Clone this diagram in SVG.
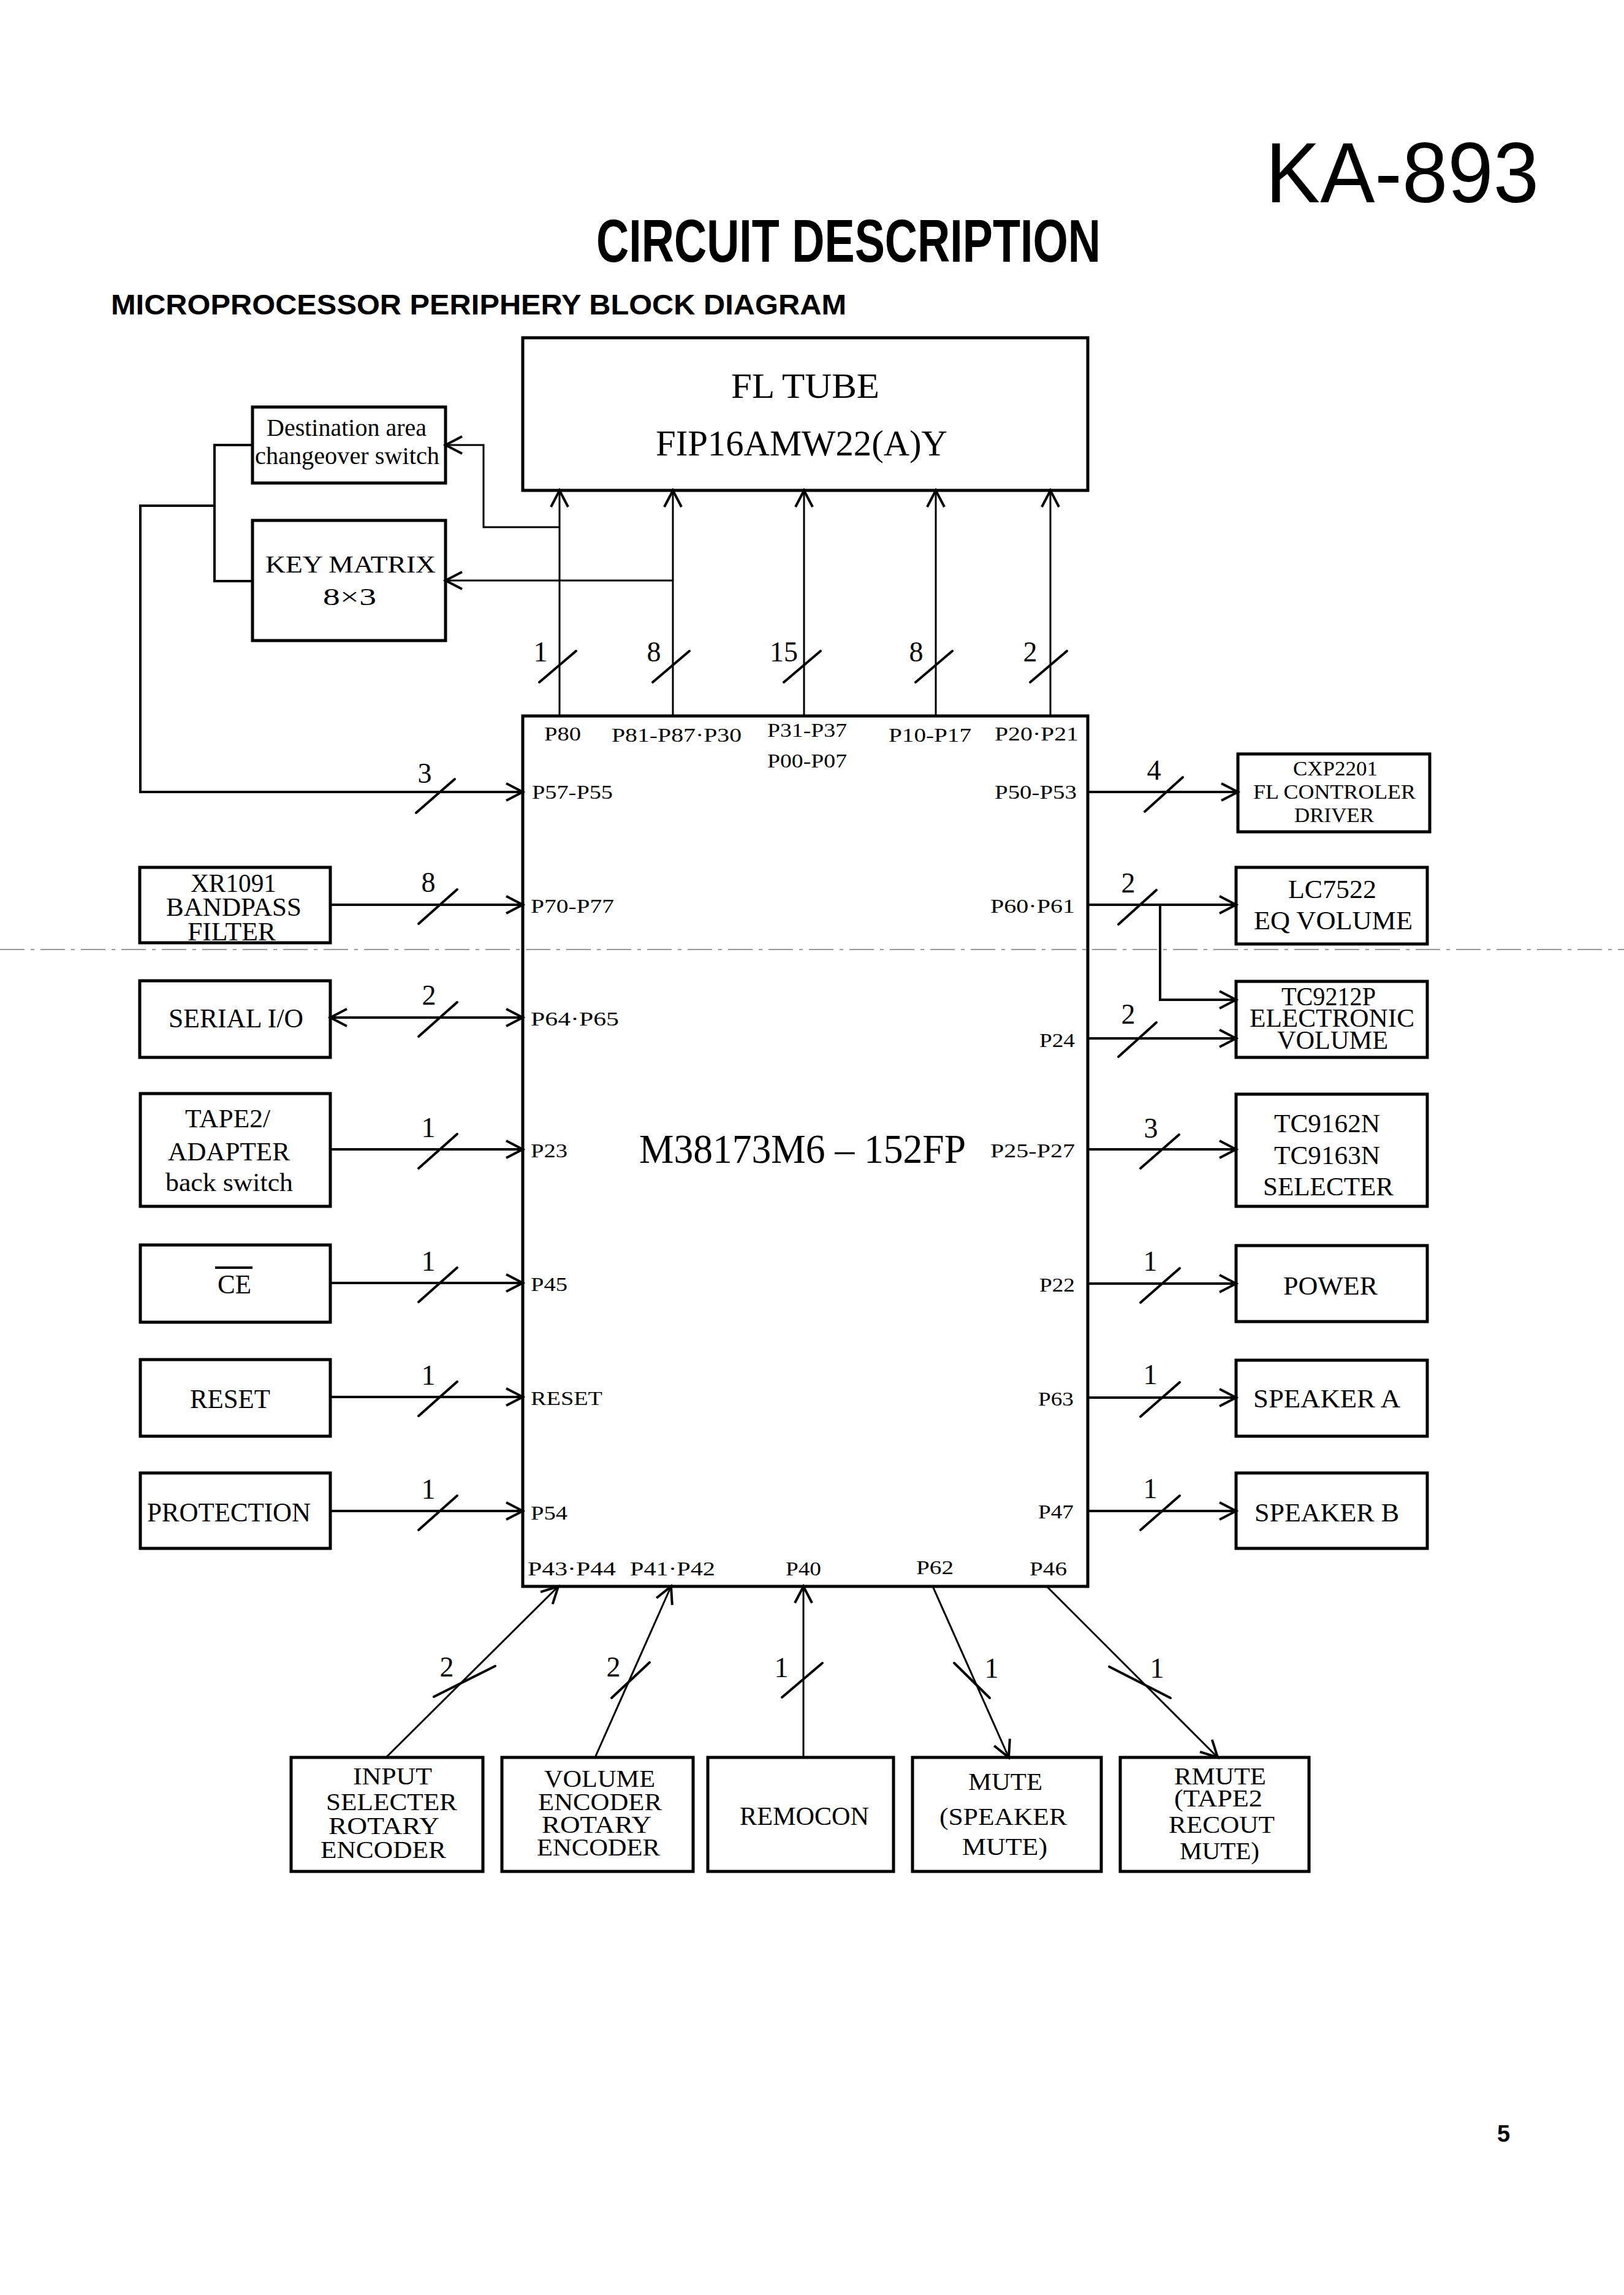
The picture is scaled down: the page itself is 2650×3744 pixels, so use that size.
<svg xmlns="http://www.w3.org/2000/svg" width="2650" height="3744" viewBox="0 0 2650 3744">
<style>
.bg{fill:#fff}
.box{fill:none;stroke:#000;stroke-width:5}
.ln{fill:none;stroke:#000;stroke-width:4}
.th{fill:none;stroke:#000;stroke-width:3}
.sl{fill:none;stroke:#000;stroke-width:4;stroke-linecap:round}
.t{font-family:"Liberation Serif","Times New Roman",serif;fill:#000}
.p{font-family:"Liberation Serif","Times New Roman",serif;font-size:32px;fill:#000}
.n{font-family:"Liberation Serif","Times New Roman",serif;font-size:46px;fill:#000;text-anchor:middle}
.s{font-family:"Liberation Sans",Arial,sans-serif;fill:#000}
</style>
<defs>
<marker id="arr" markerUnits="userSpaceOnUse" viewBox="-32 -20 40 40" markerWidth="40" markerHeight="40" refX="0" refY="0" orient="auto-start-reverse" overflow="visible">
<path d="M-27,-14 L0,0 L-27,14" fill="none" stroke="#000" stroke-width="4"/>
</marker>
</defs>
<rect class="bg" x="0" y="0" width="2650" height="3744"/>

<g id="header">
<text class="s" x="2065" y="330" font-size="140" textLength="446" lengthAdjust="spacingAndGlyphs">KA-893</text>
<text class="s" x="973" y="427" font-size="98" font-weight="bold" textLength="823" lengthAdjust="spacingAndGlyphs">CIRCUIT DESCRIPTION</text>
<text class="s" x="181" y="513" font-size="47" font-weight="bold" textLength="1200" lengthAdjust="spacingAndGlyphs">MICROPROCESSOR PERIPHERY BLOCK DIAGRAM</text>
<text class="s" x="2443" y="3494" font-size="38" font-weight="bold">5</text>
</g>

<line x1="0" y1="1549" x2="2650" y2="1549" stroke="#999" stroke-width="2" stroke-dasharray="40 10 6 10"/>

<g id="fl-tube">
<rect class="box" x="853" y="551" width="922" height="249"/>
<text class="t" x="1193" y="649" font-size="57" textLength="242" lengthAdjust="spacingAndGlyphs">FL TUBE</text>
<text class="t" x="1070" y="743" font-size="60" textLength="476" lengthAdjust="spacingAndGlyphs">FIP16AMW22(A)Y</text>
</g>

<g id="destination">
<rect class="box" x="412" y="664" width="315" height="124"/>
<text class="t" x="435" y="711" font-size="39" textLength="261" lengthAdjust="spacingAndGlyphs">Destination area</text>
<text class="t" x="416" y="757" font-size="39" textLength="301" lengthAdjust="spacingAndGlyphs">changeover switch</text>
</g>

<g id="key-matrix">
<rect class="box" x="412" y="849" width="315" height="196"/>
<text class="t" x="433" y="934" font-size="41" textLength="278" lengthAdjust="spacingAndGlyphs">KEY MATRIX</text>
<text class="t" x="527" y="987" font-size="41" textLength="87" lengthAdjust="spacingAndGlyphs">8×3</text>
</g>

<g id="mcu">
<rect class="box" x="853" y="1168" width="922" height="1420"/>
<text class="t" x="1043" y="1897" font-size="68" textLength="533" lengthAdjust="spacingAndGlyphs">M38173M6 – 152FP</text>
<text class="p" x="888" y="1208" textLength="60" lengthAdjust="spacingAndGlyphs">P80</text>
<text class="p" x="998" y="1210" textLength="212" lengthAdjust="spacingAndGlyphs">P81-P87·P30</text>
<text class="p" x="1252" y="1202" textLength="130" lengthAdjust="spacingAndGlyphs">P31-P37</text>
<text class="p" x="1252" y="1252" textLength="130" lengthAdjust="spacingAndGlyphs">P00-P07</text>
<text class="p" x="1450" y="1210" textLength="135" lengthAdjust="spacingAndGlyphs">P10-P17</text>
<text class="p" x="1623" y="1208" textLength="137" lengthAdjust="spacingAndGlyphs">P20·P21</text>
<text class="p" x="868" y="1303" textLength="132" lengthAdjust="spacingAndGlyphs">P57-P55</text>
<text class="p" x="866" y="1489" textLength="136" lengthAdjust="spacingAndGlyphs">P70-P77</text>
<text class="p" x="866" y="1673" textLength="144" lengthAdjust="spacingAndGlyphs">P64·P65</text>
<text class="p" x="866" y="1888" textLength="60" lengthAdjust="spacingAndGlyphs">P23</text>
<text class="p" x="866" y="2106" textLength="60" lengthAdjust="spacingAndGlyphs">P45</text>
<text class="p" x="866" y="2292" textLength="117" lengthAdjust="spacingAndGlyphs">RESET</text>
<text class="p" x="866" y="2479" textLength="60" lengthAdjust="spacingAndGlyphs">P54</text>
<text class="p" x="1623" y="1303" textLength="134" lengthAdjust="spacingAndGlyphs">P50-P53</text>
<text class="p" x="1616" y="1489" textLength="138" lengthAdjust="spacingAndGlyphs">P60·P61</text>
<text class="p" x="1696" y="1708" textLength="58" lengthAdjust="spacingAndGlyphs">P24</text>
<text class="p" x="1616" y="1888" textLength="138" lengthAdjust="spacingAndGlyphs">P25-P27</text>
<text class="p" x="1696" y="2107" textLength="58" lengthAdjust="spacingAndGlyphs">P22</text>
<text class="p" x="1694" y="2293" textLength="58" lengthAdjust="spacingAndGlyphs">P63</text>
<text class="p" x="1694" y="2477" textLength="58" lengthAdjust="spacingAndGlyphs">P47</text>
<text class="p" x="861" y="2570" textLength="144" lengthAdjust="spacingAndGlyphs">P43·P44</text>
<text class="p" x="1028" y="2570" textLength="139" lengthAdjust="spacingAndGlyphs">P41·P42</text>
<text class="p" x="1282" y="2570" textLength="58" lengthAdjust="spacingAndGlyphs">P40</text>
<text class="p" x="1495" y="2568" textLength="61" lengthAdjust="spacingAndGlyphs">P62</text>
<text class="p" x="1680" y="2570" textLength="61" lengthAdjust="spacingAndGlyphs">P46</text>
</g>

<g id="xr1091">
<rect class="box" x="228" y="1415" width="311" height="123"/>
<text class="t" x="311" y="1455" font-size="42" textLength="140" lengthAdjust="spacingAndGlyphs">XR1091</text>
<text class="t" x="271" y="1494" font-size="42" textLength="221" lengthAdjust="spacingAndGlyphs">BANDPASS</text>
<text class="t" x="306" y="1534" font-size="42" textLength="144" lengthAdjust="spacingAndGlyphs">FILTER</text>
</g>
<g id="serial-io">
<rect class="box" x="228" y="1600" width="311" height="125"/>
<text class="t" x="275" y="1676" font-size="44" textLength="220" lengthAdjust="spacingAndGlyphs">SERIAL I/O</text>
</g>
<g id="tape2-adapter">
<rect class="box" x="229" y="1784" width="310" height="184"/>
<text class="t" x="302" y="1839" font-size="42" textLength="139" lengthAdjust="spacingAndGlyphs">TAPE2/</text>
<text class="t" x="274" y="1893" font-size="42" textLength="199" lengthAdjust="spacingAndGlyphs">ADAPTER</text>
<text class="t" x="270" y="1943" font-size="42" textLength="208" lengthAdjust="spacingAndGlyphs">back switch</text>
</g>
<g id="ce">
<rect class="box" x="229" y="2031" width="310" height="126"/>
<text class="t" x="355" y="2110" font-size="44" textLength="55" lengthAdjust="spacingAndGlyphs">CE</text>
<line x1="351" y1="2068" x2="412" y2="2068" stroke="#000" stroke-width="4"/>
</g>
<g id="reset">
<rect class="box" x="229" y="2218" width="310" height="125"/>
<text class="t" x="310" y="2297" font-size="44" textLength="131" lengthAdjust="spacingAndGlyphs">RESET</text>
</g>
<g id="protection">
<rect class="box" x="229" y="2403" width="310" height="123"/>
<text class="t" x="240" y="2482" font-size="44" textLength="267" lengthAdjust="spacingAndGlyphs">PROTECTION</text>
</g>

<g id="cxp2201">
<rect class="box" x="2020" y="1230" width="313" height="127"/>
<text class="t" x="2110" y="1265" font-size="34" textLength="138" lengthAdjust="spacingAndGlyphs">CXP2201</text>
<text class="t" x="2045" y="1303" font-size="34" textLength="265" lengthAdjust="spacingAndGlyphs">FL CONTROLER</text>
<text class="t" x="2112" y="1341" font-size="34" textLength="130" lengthAdjust="spacingAndGlyphs">DRIVER</text>
</g>
<g id="lc7522">
<rect class="box" x="2017" y="1415" width="312" height="125"/>
<text class="t" x="2102" y="1465" font-size="42" textLength="144" lengthAdjust="spacingAndGlyphs">LC7522</text>
<text class="t" x="2046" y="1516" font-size="42" textLength="259" lengthAdjust="spacingAndGlyphs">EQ VOLUME</text>
</g>
<g id="tc9212p">
<rect class="box" x="2017" y="1601" width="312" height="124"/>
<text class="t" x="2091" y="1640" font-size="42" textLength="154" lengthAdjust="spacingAndGlyphs">TC9212P</text>
<text class="t" x="2039" y="1675" font-size="42" textLength="269" lengthAdjust="spacingAndGlyphs">ELECTRONIC</text>
<text class="t" x="2084" y="1711" font-size="42" textLength="181" lengthAdjust="spacingAndGlyphs">VOLUME</text>
</g>
<g id="tc9162n">
<rect class="box" x="2017" y="1785" width="312" height="183"/>
<text class="t" x="2079" y="1847" font-size="42" textLength="173" lengthAdjust="spacingAndGlyphs">TC9162N</text>
<text class="t" x="2079" y="1899" font-size="42" textLength="173" lengthAdjust="spacingAndGlyphs">TC9163N</text>
<text class="t" x="2061" y="1950" font-size="42" textLength="213" lengthAdjust="spacingAndGlyphs">SELECTER</text>
</g>
<g id="power">
<rect class="box" x="2017" y="2032" width="312" height="124"/>
<text class="t" x="2094" y="2112" font-size="42" textLength="154" lengthAdjust="spacingAndGlyphs">POWER</text>
</g>
<g id="speaker-a">
<rect class="box" x="2017" y="2219" width="312" height="124"/>
<text class="t" x="2045" y="2296" font-size="42" textLength="240" lengthAdjust="spacingAndGlyphs">SPEAKER A</text>
</g>
<g id="speaker-b">
<rect class="box" x="2017" y="2403" width="312" height="123"/>
<text class="t" x="2047" y="2482" font-size="42" textLength="236" lengthAdjust="spacingAndGlyphs">SPEAKER B</text>
</g>

<g id="input-selecter">
<rect class="box" x="475" y="2867" width="313" height="186"/>
<text class="t" x="576" y="2911" font-size="40" textLength="129" lengthAdjust="spacingAndGlyphs">INPUT</text>
<text class="t" x="532" y="2953" font-size="40" textLength="214" lengthAdjust="spacingAndGlyphs">SELECTER</text>
<text class="t" x="536" y="2992" font-size="40" textLength="181" lengthAdjust="spacingAndGlyphs">ROTARY</text>
<text class="t" x="523" y="3031" font-size="40" textLength="205" lengthAdjust="spacingAndGlyphs">ENCODER</text>
</g>
<g id="volume-encoder">
<rect class="box" x="819" y="2867" width="312" height="186"/>
<text class="t" x="888" y="2915" font-size="40" textLength="181" lengthAdjust="spacingAndGlyphs">VOLUME</text>
<text class="t" x="878" y="2953" font-size="40" textLength="202" lengthAdjust="spacingAndGlyphs">ENCODER</text>
<text class="t" x="884" y="2990" font-size="40" textLength="179" lengthAdjust="spacingAndGlyphs">ROTARY</text>
<text class="t" x="876" y="3027" font-size="40" textLength="201" lengthAdjust="spacingAndGlyphs">ENCODER</text>
</g>
<g id="remocon">
<rect class="box" x="1155" y="2867" width="303" height="186"/>
<text class="t" x="1207" y="2977" font-size="42" textLength="211" lengthAdjust="spacingAndGlyphs">REMOCON</text>
</g>
<g id="mute">
<rect class="box" x="1489" y="2867" width="308" height="186"/>
<text class="t" x="1580" y="2920" font-size="40" textLength="121" lengthAdjust="spacingAndGlyphs">MUTE</text>
<text class="t" x="1533" y="2977" font-size="40" textLength="208" lengthAdjust="spacingAndGlyphs">(SPEAKER</text>
<text class="t" x="1570" y="3026" font-size="40" textLength="139" lengthAdjust="spacingAndGlyphs">MUTE)</text>
</g>
<g id="rmute">
<rect class="box" x="1828" y="2867" width="308" height="186"/>
<text class="t" x="1916" y="2911" font-size="40" textLength="150" lengthAdjust="spacingAndGlyphs">RMUTE</text>
<text class="t" x="1916" y="2947" font-size="40" textLength="144" lengthAdjust="spacingAndGlyphs">(TAPE2</text>
<text class="t" x="1907" y="2990" font-size="40" textLength="173" lengthAdjust="spacingAndGlyphs">RECOUT</text>
<text class="t" x="1925" y="3033" font-size="40" textLength="130" lengthAdjust="spacingAndGlyphs">MUTE)</text>
</g>

<g id="connectors">
<path class="th" d="M913,1168 V800" marker-end="url(#arr)"/>
<path class="th" d="M1098,1168 V800" marker-end="url(#arr)"/>
<path class="th" d="M1312,1168 V800" marker-end="url(#arr)"/>
<path class="th" d="M1527,1168 V800" marker-end="url(#arr)"/>
<path class="th" d="M1714,1168 V800" marker-end="url(#arr)"/>
<path class="th" d="M913,860 H789 V726 H727" marker-end="url(#arr)"/>
<path class="th" d="M1098,947 H727" marker-end="url(#arr)"/>
<path class="ln" d="M412,726 H350 V948 H412"/>
<path class="ln" d="M350,825 H229 V1292 H853" marker-end="url(#arr)"/>
<line class="sl" x1="880" y1="1113" x2="940" y2="1062"/>
<line class="sl" x1="1065" y1="1113" x2="1125" y2="1062"/>
<line class="sl" x1="1279" y1="1113" x2="1339" y2="1062"/>
<line class="sl" x1="1494" y1="1113" x2="1554" y2="1062"/>
<line class="sl" x1="1681" y1="1113" x2="1741" y2="1062"/>
<text class="n" x="882" y="1079">1</text>
<text class="n" x="1067" y="1079">8</text>
<text class="n" x="1279" y="1079">15</text>
<text class="n" x="1495" y="1079">8</text>
<text class="n" x="1681" y="1079">2</text>
<path class="ln" d="M539,1476 H853" marker-end="url(#arr)"/>
<path class="ln" d="M539,1660 H853" marker-start="url(#arr)" marker-end="url(#arr)"/>
<path class="ln" d="M539,1875 H853" marker-end="url(#arr)"/>
<path class="ln" d="M539,2093 H853" marker-end="url(#arr)"/>
<path class="ln" d="M539,2279 H853" marker-end="url(#arr)"/>
<path class="ln" d="M539,2465 H853" marker-end="url(#arr)"/>
<line class="sl" x1="679" y1="1326" x2="742" y2="1271"/>
<line class="sl" x1="683" y1="1507" x2="746" y2="1451"/>
<line class="sl" x1="683" y1="1691" x2="746" y2="1635"/>
<line class="sl" x1="683" y1="1906" x2="746" y2="1850"/>
<line class="sl" x1="683" y1="2124" x2="746" y2="2068"/>
<line class="sl" x1="683" y1="2310" x2="746" y2="2254"/>
<line class="sl" x1="683" y1="2496" x2="746" y2="2440"/>
<text class="n" x="693" y="1277">3</text>
<text class="n" x="699" y="1455">8</text>
<text class="n" x="700" y="1639">2</text>
<text class="n" x="699" y="1855">1</text>
<text class="n" x="699" y="2073">1</text>
<text class="n" x="699" y="2259">1</text>
<text class="n" x="699" y="2445">1</text>
<path class="ln" d="M1775,1292 H2020" marker-end="url(#arr)"/>
<path class="ln" d="M1775,1476 H2017" marker-end="url(#arr)"/>
<path class="ln" d="M1893,1476 V1631 H2017" marker-end="url(#arr)"/>
<path class="ln" d="M1775,1694 H2017" marker-end="url(#arr)"/>
<path class="ln" d="M1775,1875 H2017" marker-end="url(#arr)"/>
<path class="ln" d="M1775,2094 H2017" marker-end="url(#arr)"/>
<path class="ln" d="M1775,2280 H2017" marker-end="url(#arr)"/>
<path class="ln" d="M1775,2465 H2017" marker-end="url(#arr)"/>
<line class="sl" x1="1868" y1="1324" x2="1930" y2="1268"/>
<line class="sl" x1="1825" y1="1508" x2="1887" y2="1452"/>
<line class="sl" x1="1825" y1="1724" x2="1887" y2="1668"/>
<line class="sl" x1="1861" y1="1906" x2="1924" y2="1851"/>
<line class="sl" x1="1861" y1="2125" x2="1925" y2="2069"/>
<line class="sl" x1="1861" y1="2311" x2="1925" y2="2255"/>
<line class="sl" x1="1861" y1="2496" x2="1925" y2="2440"/>
<text class="n" x="1883" y="1272">4</text>
<text class="n" x="1841" y="1456">2</text>
<text class="n" x="1841" y="1670">2</text>
<text class="n" x="1878" y="1856">3</text>
<text class="n" x="1877" y="2073">1</text>
<text class="n" x="1877" y="2258">1</text>
<text class="n" x="1877" y="2444">1</text>
<path class="th" d="M630,2867 L911,2588" marker-end="url(#arr)"/>
<path class="th" d="M971,2867 L1095,2588" marker-end="url(#arr)"/>
<path class="th" d="M1311,2867 V2588" marker-end="url(#arr)"/>
<path class="th" d="M1522,2588 L1646,2867" marker-end="url(#arr)"/>
<path class="th" d="M1708,2588 L1987,2867" marker-end="url(#arr)"/>
<line class="sl" x1="708" y1="2768" x2="808" y2="2718"/>
<line class="sl" x1="998" y1="2770" x2="1060" y2="2712"/>
<line class="sl" x1="1276" y1="2769" x2="1342" y2="2713"/>
<line class="sl" x1="1557" y1="2713" x2="1615" y2="2770"/>
<line class="sl" x1="1810" y1="2719" x2="1910" y2="2770"/>
<text class="n" x="729" y="2735">2</text>
<text class="n" x="1001" y="2735">2</text>
<text class="n" x="1275" y="2736">1</text>
<text class="n" x="1618" y="2737">1</text>
<text class="n" x="1888" y="2737">1</text>
</g>
</svg>
